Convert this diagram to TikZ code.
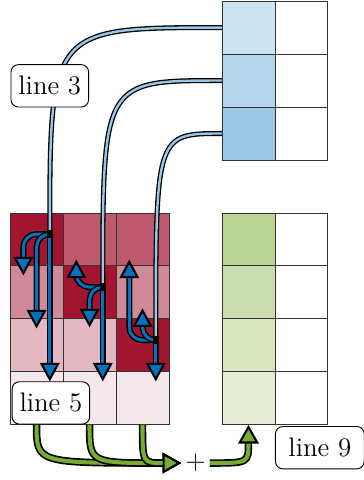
\documentclass[tikz,border=0pt]{standalone}
\usetikzlibrary{arrows.meta,calc}
\definecolor{mred}{HTML}{A2142F}
\definecolor{mblue}{HTML}{0072BD}
\definecolor{mgreen}{HTML}{77AC30}
\begin{document}
\begin{tikzpicture}[
  cell/.style={draw=black!80, line width=0.5pt, minimum size=1cm, inner sep=0pt, outer sep=0pt, anchor=center},
  lbl/.style={draw=black, line width=0.5pt, fill=white, rounded corners=4pt, font=\Large, inner xsep=4pt, minimum height=0.8cm},
  feed/.style={draw=black, line width=0.7pt, double=mblue!40, double distance=1.3pt},
  bcast/.style={draw=black, line width=0.8pt, double=mblue, double distance=1.6pt, rounded corners=7pt, -{Triangle[length=10pt,width=10.5pt,fill=mblue,line width=1.1pt]}},
  gsum/.style={draw=black, line width=0.9pt, double=mgreen, double distance=2.2pt, -{Triangle[length=10pt,width=11pt,fill=mgreen,line width=1.1pt]}},
  blob/.style={fill=black, inner sep=0pt, minimum width=3pt, minimum height=4pt},
]
\useasboundingbox (-0.19,-1.04) rectangle (6.68,8.02);
% red matrix
\foreach \r/\a/\b/\c in {0/100/70/70,1/50/100/50,2/30/30/100,3/10/10/10}{
  \node[cell, fill=mred!\a] (r\r0) at (0.5,3.5-\r) {};
  \node[cell, fill=mred!\b] (r\r1) at (1.5,3.5-\r) {};
  \node[cell, fill=mred!\c] (r\r2) at (2.5,3.5-\r) {};
}
% blue matrix
\foreach \r/\a in {0/20,1/30,2/40}{
  \node[cell, fill=mblue!\a] (b\r0) at (4.5,7.5-\r) {};
  \node[cell, fill=white] (b\r1) at (5.5,7.5-\r) {};
}
% green matrix
\foreach \r/\a in {0/50,1/40,2/30,3/20}{
  \node[cell, fill=mgreen!\a] (g\r0) at (4.5,3.5-\r) {};
  \node[cell, fill=white] (g\r1) at (5.5,3.5-\r) {};
}
% sources
\coordinate (s0) at (0.75,3.6);
\coordinate (s1) at (1.75,2.6);
\coordinate (s2) at (2.75,1.6);
% targets
\coordinate (t01) at (0.25,2.82);
\coordinate (t02) at (0.5,1.82);
\coordinate (t03) at (0.75,0.82);
\coordinate (t10) at (1.25,3.12);
\coordinate (t12) at (1.5,1.84);
\coordinate (t13) at (1.75,0.82);
\coordinate (t20) at (2.25,3.12);
\coordinate (t21) at (2.5,2.2);
\coordinate (t23) at (2.75,0.82);
% feeds
\draw[feed] (b00.west) .. controls (b00.west -| s0) .. (s0);
\draw[feed] (b10.west) .. controls (b10.west -| s1) .. (s1);
\draw[feed] (b20.west) .. controls (b20.west -| s2) .. (s2);
% broadcasts
\draw[bcast] (s0) -| (t01);
\draw[bcast] (s0) -| (t02);
\draw[bcast] (s0) -- (t03);
\draw[bcast] (s1) -| (t10);
\draw[bcast] (s1) -| (t12);
\draw[bcast] (s1) -- (t13);
\draw[bcast] (s2) -| (t20);
\draw[bcast] (s2) -| (t21);
\draw[bcast] (s2) -- (t23);
\node[blob] (k0) at (s0) {};
\node[blob] (k1) at (s1) {};
\node[blob] (k2) at (s2) {};
% sum
\node[font=\Large, inner sep=2pt] (plus) at (3.5,-0.72) {$+$};
\draw[gsum] (r30.south) .. controls (r30.south |- plus.west) .. (plus.west);
\draw[gsum] (r31.south) .. controls (r31.south |- plus.west) .. (plus.west);
\draw[gsum] (r32.south) .. controls (r32.south |- plus.west) .. (plus.west);
\draw[gsum] (plus.east) .. controls (plus.east -| g30.south) .. (g30.south);
% labels
\node[lbl] (l3) at (0.75,6.4) {line 3};
\node[lbl] (l5) at (0.77,0.415) {line 5};
\node[lbl, anchor=west, inner xsep=7pt] (l9) at (5.0,-0.43) {line 9};
\end{tikzpicture}
\end{document}
